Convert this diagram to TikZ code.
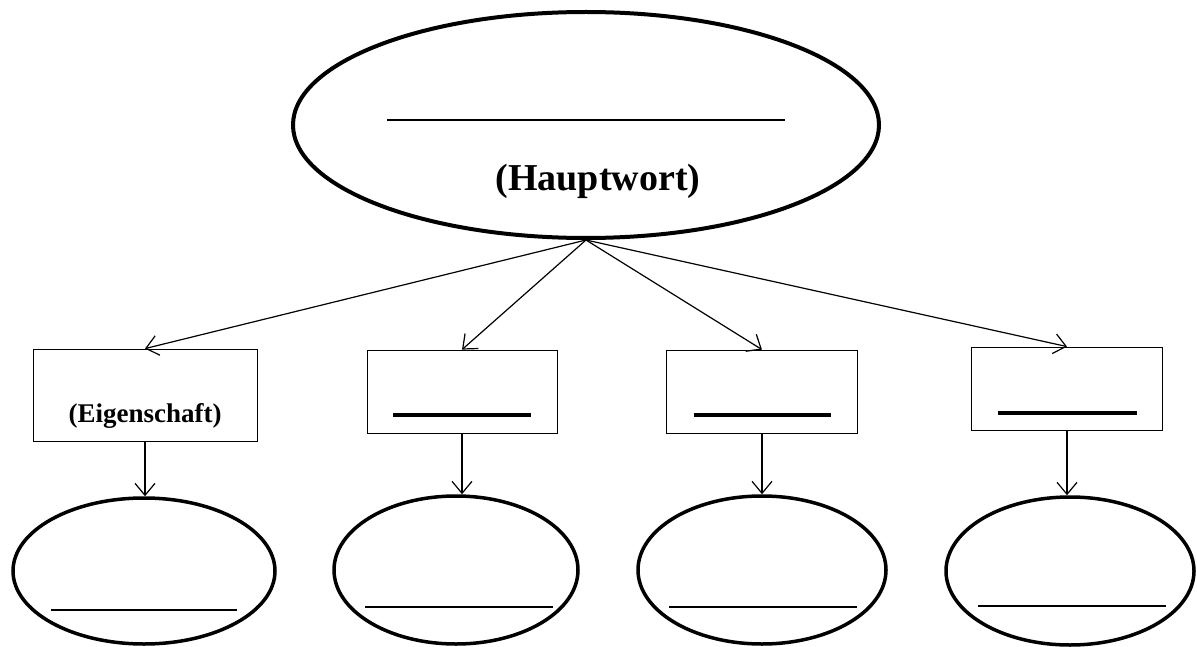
\documentclass[tikz,border=0pt]{standalone}
\usepackage{fontspec}
\setmainfont{Liberation Serif}
\usetikzlibrary{shapes.geometric,arrows.meta}
\begin{document}
\begin{tikzpicture}[x=1pt,y=-1pt,
  bigell/.style={draw,ellipse,line width=4pt,inner sep=0pt},
  smallell/.style={draw,ellipse,line width=3.5pt,inner sep=0pt,minimum width=262pt,minimum height=146pt},
  box/.style={draw,line width=0.8pt,inner sep=0pt},
  arr/.style={line width=1.2pt,-{Straight Barb[length=12pt,width=20pt]}},
  blank/.style={inner sep=0pt}]
\useasboundingbox (0,0) rectangle (1197,647);
\node[bigell,minimum width=586pt,minimum height=226pt] (top) at (586,125) {};
\node[blank] (topline) at (586,120) {\rule{398pt}{2pt}};
\node[blank,font=\bfseries\fontsize{38}{44}\selectfont] (toptext) at (598,181) {(Hauptwort)};
\node[box,minimum width=224pt,minimum height=92pt] (b1) at (145,395) {};
\node[blank,font=\bfseries\fontsize{27}{32}\selectfont] (b1t) at (145,416) {(Eigenschaft)};
\node[box,minimum width=190pt,minimum height=83pt] (b2) at (462,391.5) {};
\node[box,minimum width=191pt,minimum height=83pt] (b3) at (762,391.5) {};
\node[box,minimum width=191pt,minimum height=83pt] (b4) at (1067,388.5) {};
\node[blank] (l2) at (462,415) {\rule{138pt}{4pt}};
\node[blank] (l3) at (762,415) {\rule{137pt}{4pt}};
\node[blank] (l4) at (1067,413) {\rule{139pt}{4pt}};
\node[smallell] (e1) at (144,571) {};
\node[smallell,minimum width=244pt,minimum height=148pt] (e2) at (456,570) {};
\node[smallell,minimum width=248pt,minimum height=148pt] (e3) at (762,570) {};
\node[smallell,minimum width=248pt,minimum height=148pt] (e4) at (1070,571) {};
\node[blank] (u1) at (144,610) {\rule{187pt}{1.8pt}};
\node[blank] (u2) at (459,607) {\rule{188pt}{1.8pt}};
\node[blank] (u3) at (763,607) {\rule{188pt}{1.8pt}};
\node[blank] (u4) at (1072,606) {\rule{188pt}{1.8pt}};
\draw[arr] (top.south) -- (b1.north);
\draw[arr] (top.south) -- (b2.north);
\draw[arr] (top.south) -- (b3.north);
\draw[arr] (top.south) -- (b4.north);
\draw[arr] (b1.south) -- (b1.south |- e1.north);
\draw[arr] (b2.south) -- (b2.south |- e2.north);
\draw[arr] (b3.south) -- (b3.south |- e3.north);
\draw[arr] (b4.south) -- (b4.south |- e4.north);
\end{tikzpicture}
\end{document}
